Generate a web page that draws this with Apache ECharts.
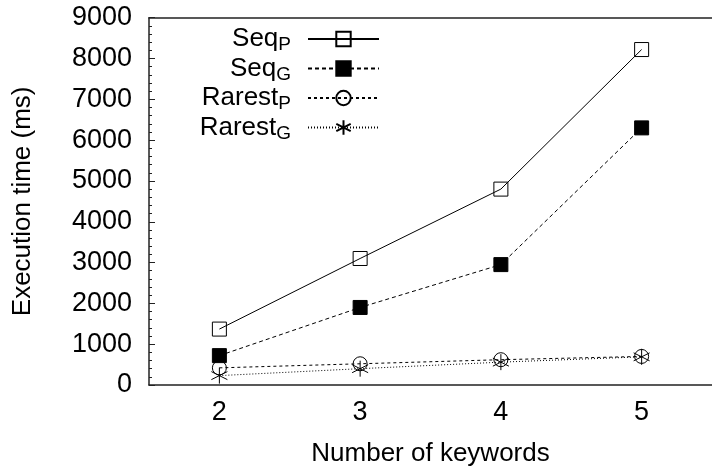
<!DOCTYPE html>
<html>
<head>
<meta charset="utf-8">
<style>html,body{margin:0;padding:0;background:#fff;}#c{width:712px;height:472px;}</style>
<script src="https://cdn.jsdelivr.net/npm/echarts@6/dist/echarts.min.js"></script>
</head>
<body>
<div id="c"></div>
<script>
const categories = ['2', '3', '4', '5'];
const yTicks = [0, 1000, 2000, 3000, 4000, 5000, 6000, 7000, 8000, 9000];
const seqP = [1370, 3100, 4800, 8220];
const seqG = [720, 1900, 2950, 6300];
const rarestP = [420, 520, 620, 700];
const rarestG = [230, 400, 560, 690];
const seriesNames = ['Seq_P', 'Seq_G', 'Rarest_P', 'Rarest_G'];

const FONT = '"Liberation Sans", Arial, Helvetica, sans-serif';
const FS = 26;
const TFS = 27;
const chart = echarts.init(document.getElementById('c'), null, {renderer: 'canvas'});
const asterisk = 'path://M0,-1L0,1M-0.87,-0.5L0.87,0.5M-0.87,0.5L0.87,-0.5';

function mk(name, data, symbol, fill, dash, size) {
  return {
    name: name, type: 'line', data: data, symbol: symbol, symbolSize: size,
    showSymbol: true,
    lineStyle: {color: '#000', width: 1, type: dash},
    itemStyle: {color: fill, borderColor: '#000', borderWidth: 1},
    emphasis: {disabled: true},
    animation: false, z: 3
  };
}

chart.setOption({
  animation: false,
  textStyle: {fontFamily: FONT},
  grid: {left: 149, top: 17.7, right: -8, bottom: 82.3, containLabel: false},
  legend: {
    orient: 'vertical', align: 'right', right: 332, top: 26, padding: 0,
    itemWidth: 71, itemHeight: 18, itemGap: 1,
    data: seriesNames,
    formatter: function (n) { const p = n.split('_'); return '{m|' + p[0] + '}{s|' + p[1] + '}'; },
    textStyle: {
      fontFamily: FONT, color: '#000', padding: [0, 12, 0, 0],
      rich: {
        m: {fontSize: FS, fontFamily: FONT, color: '#000'},
        s: {fontSize: 19, fontFamily: FONT, color: '#000', padding: [12, 0, 0, 0]}
      }
    }
  },
  xAxis: [{
    type: 'category', data: categories, boundaryGap: true,
    name: 'Number of keywords', nameLocation: 'middle', nameGap: 56,
    nameTextStyle: {fontSize: FS, color: '#000', fontFamily: FONT},
    axisLine: {lineStyle: {color: '#222', width: 1.5}},
    axisTick: {inside: true, alignWithLabel: true, length: 6, lineStyle: {color: '#222', width: 1}},
    axisLabel: {fontSize: TFS, color: '#000', margin: 14, fontFamily: FONT},
    splitLine: {show: false}
  }, {
    type: 'category', data: categories, boundaryGap: true, position: 'top',
    axisLine: {lineStyle: {color: '#222', width: 1.5}},
    axisTick: {inside: true, alignWithLabel: true, length: 6, lineStyle: {color: '#222', width: 1}},
    axisLabel: {show: false}, splitLine: {show: false}
  }],
  yAxis: [{
    type: 'value', min: yTicks[0], max: yTicks[yTicks.length - 1], interval: 1000,
    name: 'Execution time (ms)', nameLocation: 'middle', nameGap: 113,
    nameTextStyle: {fontSize: FS, color: '#000', fontFamily: FONT},
    axisLine: {show: true, lineStyle: {color: '#222', width: 1.5}},
    axisTick: {show: true, inside: true, length: 6, lineStyle: {color: '#222', width: 1}},
    minorTick: {show: true, splitNumber: 5, length: 3, lineStyle: {color: '#222', width: 1}},
    axisLabel: {fontSize: TFS, color: '#000', margin: 17, fontFamily: FONT, formatter: function (v) { return String(v); }},
    splitLine: {show: false}
  }],
  series: [
    mk(seriesNames[0], seqP, 'rect', 'none', 'solid', 14),
    mk(seriesNames[1], seqG, 'rect', '#000', [4, 3], 14),
    mk(seriesNames[2], rarestP, 'circle', 'none', [3, 3], 14),
    mk(seriesNames[3], rarestG, asterisk, 'none', [1, 2], 16)
  ]
});
</script>
</body>
</html>
